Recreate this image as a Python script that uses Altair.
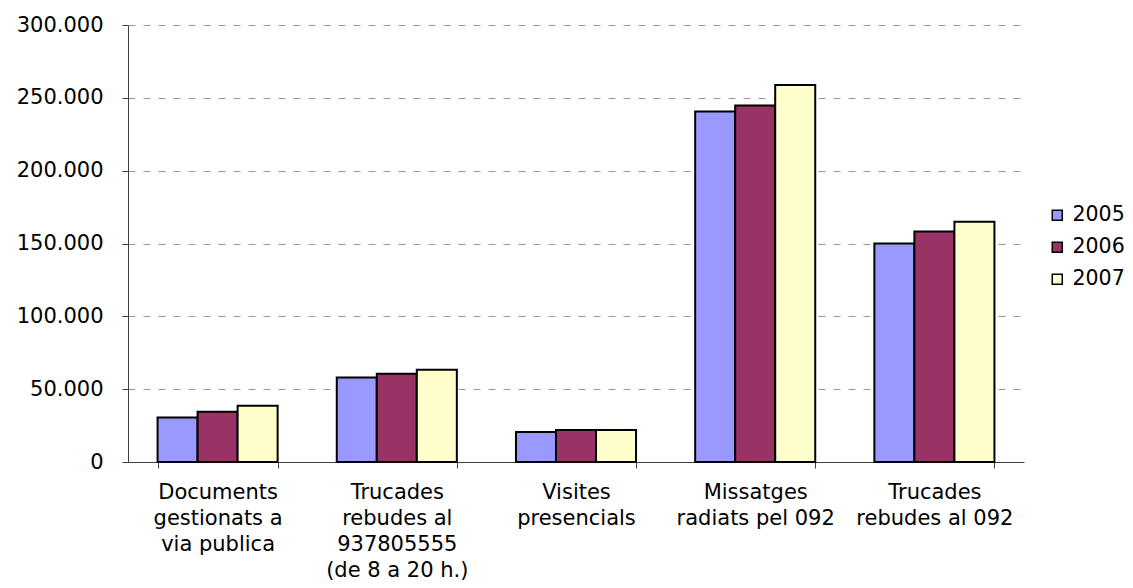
import altair as alt
import pandas as pd

categories = [
    "Documents|gestionats a|via publica",
    "Trucades|rebudes al|937805555|(de 8 a 20 h.)",
    "Visites|presencials",
    "Missatges|radiats pel 092",
    "Trucades|rebudes al 092",
]
years = ["2005", "2006", "2007"]
v2005 = [30500, 58000, 20600, 240600, 150000]
v2006 = [34500, 60500, 22000, 244800, 158200]
v2007 = [38600, 63300, 22000, 258800, 165000]
colors = ["#9999FF", "#993366", "#FFFFCC"]

rows = []
for yr, vals in zip(years, [v2005, v2006, v2007]):
    for c, v in zip(categories, vals):
        rows.append({"cat": c, "year": yr, "value": v})
df = pd.DataFrame(rows)

FONT = "DejaVu Sans"
FS = 21

chart = alt.Chart(df).mark_bar(stroke="black", strokeWidth=2).encode(
    x=alt.X("cat:N", sort=categories, title=None,
            scale=alt.Scale(paddingInner=0.33, paddingOuter=0.165),
            axis=alt.Axis(labelAngle=0, labelExpr="split(datum.label, '|')",
                          labelBaseline="top", labelLineHeight=26, labelPadding=13,
                          tickBand="extent", tickSize=6, tickColor="#404040",
                          domainColor="#404040", labelFont=FONT, labelFontSize=FS,
                          labelColor="black", grid=False, labelLimit=300)),
    xOffset=alt.XOffset("year:N", sort=years),
    y=alt.Y("value:Q", title=None,
            scale=alt.Scale(domain=[0, 300000], nice=False),
            axis=alt.Axis(values=[0, 50000, 100000, 150000, 200000, 250000, 300000],
                          labelExpr="replace(format(datum.value, ','), ',', '.')",
                          grid=True, gridDash=[7, 8], gridColor="#999999",
                          tickSize=6, tickColor="#404040", domainColor="#404040",
                          labelFont=FONT, labelFontSize=FS, labelColor="black",
                          labelPadding=19)),
    color=alt.Color("year:N", sort=years,
                    scale=alt.Scale(domain=years, range=colors),
                    legend=alt.Legend(title=None, orient="none", legendX=919, legendY=180,
                                      symbolType="square", symbolSize=100,
                                      symbolStrokeColor="black", symbolStrokeWidth=1.5,
                                      labelFont=FONT, labelFontSize=20.5, labelColor="black",
                                      rowPadding=11, labelOffset=5)),
).properties(
    width=896, height=437,
    autosize=alt.AutoSizeParams(type="none"),
    padding={"left": 120, "top": 17, "right": 101, "bottom": 118},
).configure_view(stroke=None).configure_axis(gridWidth=1)

chart.save("out.html", embed_options={"renderer": "svg", "actions": False})
